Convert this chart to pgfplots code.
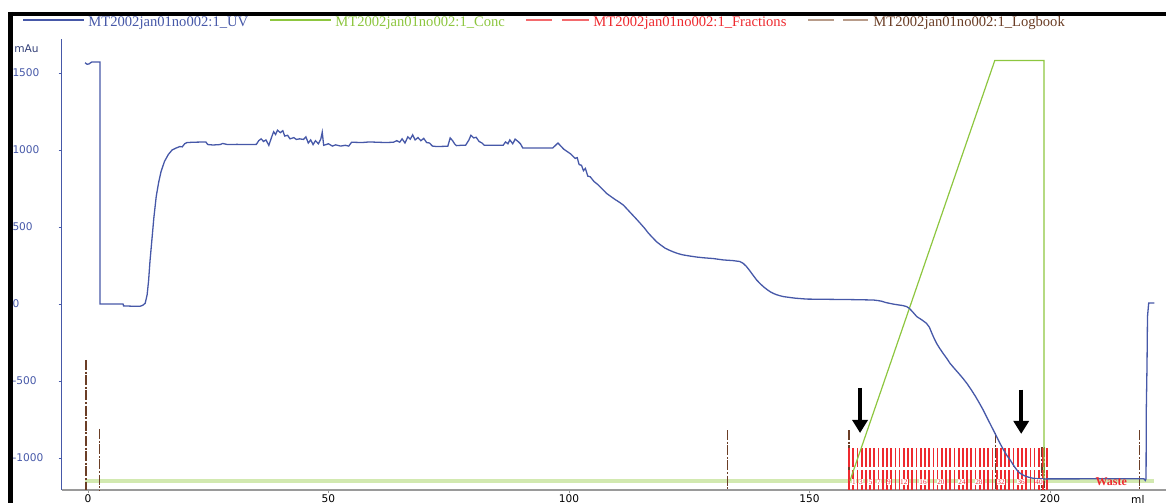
\documentclass[border=0pt]{standalone}
\usepackage{fontspec}
\setmainfont{Liberation Serif}
\newfontfamily\ticksf{DejaVu Sans}
\usepackage{pgfplots}
\usepackage{pgfplotstable}
\pgfplotsset{compat=1.18}
\usetikzlibrary{arrows.meta}

\definecolor{uvblue}{HTML}{4658A8}
\definecolor{concgreen}{HTML}{8DC63F}
\definecolor{basegreen}{HTML}{D2E9B0}
\definecolor{fracred}{HTML}{EE2A2F}
\definecolor{logbrown}{HTML}{6B3E26}
\definecolor{logtan}{HTML}{B89C8A}
\definecolor{axgray}{HTML}{9A9A9A}

% fraction boundaries (ml); yu/yl = top of upper and lower tick rows
\pgfplotstableread{
x yu yl
158.20 -935 -1077
159.08 -935 -1077
159.95 -935 -1077
160.83 -935 -1077
161.71 -935 -1077
162.59 -935 -1077
163.46 -935 -1077
164.34 -935 -1077
165.22 -935 -1077
166.09 -935 -1077
166.97 -935 -1077
167.85 -935 -1077
168.72 -935 -1077
169.60 -935 -1077
170.48 -935 -1077
171.36 -935 -1077
172.23 -935 -1077
173.11 -935 -1077
173.99 -935 -1077
174.86 -935 -1077
175.74 -935 -1077
176.62 -935 -1077
177.49 -935 -1077
178.37 -935 -1077
179.25 -935 -1077
180.13 -935 -1077
181.00 -935 -1077
181.88 -935 -1077
182.76 -935 -1077
183.63 -935 -1077
184.51 -935 -1077
185.39 -935 -1077
186.26 -935 -1077
187.14 -935 -1077
188.02 -935 -1077
188.90 -935 -1077
189.77 -935 -1077
190.65 -935 -1077
191.53 -935 -1077
192.40 -935 -1077
193.28 -935 -1077
194.16 -935 -1077
195.03 -935 -1077
195.91 -935 -1077
196.79 -935 -1077
197.67 -935 -1077
198.54 -935 -1077
199.42 -935 -1077
}\fractab

\pgfplotstableread{
x y lab
159.2 -1155 1
160.7 -1155 3
162.7 -1155 5
164.4 -1155 7
166.5 -1155 9
169.6 -1155 12
173.6 -1155 16
177.3 -1155 20
181.7 -1155 24
185.2 -1155 28
189.8 -1155 32
194.0 -1155 36
197.7 -1155 40
}\fraclabels

\begin{document}
\begin{tikzpicture}
\useasboundingbox (0,0) rectangle (583pt,251.5pt);
\clip (0,0) rectangle (583pt,251.5pt);

% window frame
\draw[line width=2.2pt] (4pt,244.5pt) -- (583pt,244.5pt);
\draw[line width=2.5pt] (5.45pt,245.6pt) -- (5.45pt,0pt);

% legend
\tikzset{legtext/.style={anchor=base west, inner sep=0pt, font=\fontsize{7.3}{8}\selectfont}}
\draw[uvblue, line width=0.6pt] (11.5pt,241.5pt) -- (42pt,241.5pt);
\node[legtext, text=uvblue] at (44pt,238pt) {MT2002jan01no002:1\_UV};
\draw[concgreen, line width=0.6pt] (135pt,241.5pt) -- (165.5pt,241.5pt);
\node[legtext, text=concgreen] at (167.5pt,238pt) {MT2002jan01no002:1\_Conc};
\draw[fracred!70, line width=0.8pt] (263pt,241.5pt) -- (276pt,241.5pt);
\draw[fracred!70, line width=0.8pt] (281pt,241.5pt) -- (294.5pt,241.5pt);
\node[legtext, text=fracred] at (296.5pt,238pt) {MT2002jan01no002:1\_Fractions};
\draw[logtan, line width=0.8pt] (404pt,241.5pt) -- (417pt,241.5pt);
\draw[logtan, line width=0.8pt] (421.5pt,241.5pt) -- (434pt,241.5pt);
\node[legtext, text=logbrown] at (436.5pt,238pt) {MT2002jan01no002:1\_Logbook};

\node[anchor=base west, inner sep=0pt, text=uvblue!70!black, font=\ticksf\fontsize{5.3}{6}\selectfont] at (7pt,225pt) {mAu};

\begin{axis}[
    at={(30.75pt,6.5pt)}, anchor=south west,
    scale only axis, width=552.25pt, height=225.5pt,
    xmin=-5.5, xmax=224.1, ymin=-1207, ymax=1720,
    axis x line*=bottom, axis y line*=left,
    x axis line style={-, draw=axgray, line width=0.7pt},
    y axis line style={-, draw=uvblue, line width=0.5pt},
    xtick={0,50,100,150,200},
    ytick={-1000,-500,0,500,1000,1500},
    tick align=outside, major tick length=1.5pt,
    xtick style={draw=axgray}, ytick style={draw=uvblue},
    /pgf/number format/assume math mode=true,
    /pgf/number format/1000 sep={},
    tick label style={font=\ticksf\fontsize{5.3}{6}\selectfont},
    yticklabel style={text=uvblue, anchor=west, inner sep=0pt, xshift=-23.2pt},
    xticklabel style={anchor=north, inner sep=0pt, yshift=-0.6pt},
    clip=true,
]

% Conc baseline band
\addplot[basegreen, line width=2pt] coordinates {(-0.6,-1147) (221.7,-1147)};

% Logbook marks
\addplot[logbrown, line width=0.6pt, dash pattern=on 5pt off 0.8pt on 1pt off 0.8pt, unbounded coords=jump] coordinates {
(-0.4,-363) (-0.4,-1207) (-0.4,nan)
(2.4,-811) (2.4,-1207) (2.4,nan)
(133.0,-818) (133.0,-1207) (133.0,nan)
(158.2,-818) (158.2,-1207) (158.2,nan)
(188.6,-837) (188.6,-1207) (188.6,nan)
(198.3,-930) (198.3,-1207) (198.3,nan)
(198.9,-930) (198.9,-1207) (198.9,nan)
(218.6,-818) (218.6,-1207)
};

% Fractions
\addplot[fracred, line width=0.85pt, quiver={u=0,v=-123}] table[x=x, y=yu] {\fractab};
\addplot[fracred, line width=0.85pt, quiver={u=0,v=-130}] table[x=x, y=yl] {\fractab};
\addplot[only marks, mark=*, mark size=0pt, mark options={draw=none, fill=none},
    nodes near coords, point meta=explicit symbolic,
    every node near coord/.append style={anchor=center, inner sep=0.2pt, fill=white, text=fracred,
      font=\fontsize{3.6}{4}\selectfont}]
    table[x=x, y=y, meta=lab] {\fraclabels};

% Conc gradient
\addplot[concgreen, line width=0.6pt] coordinates {
(158.4,-1147) (188.5,1580) (198.75,1580) (198.75,-1147)
};

% UV
\addplot[uvblue, line width=0.65pt] coordinates {
(-0.6,1566) (-0.2,1556) (0.2,1558) (0.8,1571) (2.5,1571) (2.5,0) (7.3,0) (7.4,-12)
(9.0,-14) (10.9,-14) (11.4,-8) (11.9,5) (12.3,60) (12.6,150) (12.9,280) (13.3,420)
(13.7,560) (14.2,700) (14.7,790) (15.2,860) (15.9,925) (16.7,970) (17.5,1000)
(18.3,1012) (19.1,1022) (19.6,1020) (20.1,1040) (20.6,1048) (22,1050) (24.5,1052)
(24.9,1035) (26,1032) (27.5,1035) (28,1042) (29,1035) (31,1036) (33,1035) (35.0,1036)
(35.5,1060) (36.0,1072) (36.5,1055) (37.0,1065) (37.6,1030) (38.2,1085) (38.6,1118)
(39.0,1100) (39.4,1128) (40.0,1112) (40.5,1125) (40.9,1090) (41.5,1095) (42.0,1072)
(42.8,1080) (43.3,1068) (44.0,1072) (44.8,1068) (45.3,1085) (45.8,1045) (46.3,1065)
(46.8,1035) (47.3,1060) (47.9,1040) (48.4,1070) (48.7,1115) (49.0,1030) (50.0,1040)
(50.8,1025) (51.5,1033) (52.5,1025) (53.5,1030) (54.2,1025) (54.8,1050) (57,1048)
(58.5,1052) (60,1050) (62,1048) (63.5,1050) (64.2,1060) (64.8,1050) (65.3,1072)
(65.9,1045) (66.5,1085) (67.0,1070) (67.5,1098) (68.0,1065) (68.6,1080) (69.2,1060)
(69.8,1075) (70.4,1048) (71.0,1045) (71.6,1025) (72.5,1022) (74.8,1024) (75.3,1078)
(75.8,1060) (76.2,1040) (76.6,1028) (77.5,1030) (78.5,1030) (79.2,1065) (79.6,1095)
(80.2,1078) (80.7,1082) (81.3,1055) (81.9,1045) (82.4,1030) (83.5,1030) (86.3,1030)
(86.8,1052) (87.3,1040) (87.7,1065) (88.3,1040) (88.8,1070) (89.4,1055) (89.9,1040)
(90.4,1012) (93,1012) (96.6,1012) (97.2,1030) (97.7,1045) (98.3,1025) (98.9,1005)
(99.6,990) (100.3,975) (100.8,960) (101.3,945) (101.7,950) (102.1,905) (102.6,900)
(103.0,865) (103.4,880) (103.9,830) (104.4,826) (105.2,795) (106.0,775) (106.8,750)
(107.8,718) (108.6,700) (109.5,680) (110.4,662) (111.3,642) (112.2,612) (113.0,585)
(113.9,555) (114.8,524) (115.7,492) (116.5,460) (117.4,430) (118.2,404) (119.1,382)
(120,362) (120.8,350) (121.7,338) (122.6,328) (123.5,320) (124.4,315) (125.2,311)
(126.5,305) (128,300) (130,295) (132.1,286) (134,282) (135.5,276) (136.2,264)
(136.9,243) (137.6,215) (138.3,185) (139.0,156) (139.8,130) (140.5,110) (141.2,93)
(141.8,80) (142.4,70) (143,62) (143.8,54) (144.6,48) (146,42) (147,38) (149.4,32)
(152,31) (155,30) (158,29) (160,28) (163.3,26) (164.3,22) (165,18) (165.8,10)
(166.7,4) (167.5,-1) (168.5,-6) (169.4,-10) (170.2,-17) (170.8,-30) (171.4,-50)
(172.3,-82) (173.3,-102) (174.3,-125) (174.9,-150) (175.5,-195) (176.0,-230)
(176.4,-255) (177.1,-290) (177.8,-322) (178.5,-352) (179.2,-385) (180.1,-418)
(181,-450) (181.9,-483) (182.7,-515) (183.6,-556) (184.5,-600) (185.3,-643)
(186.1,-688) (186.8,-732) (187.5,-775) (188.2,-818) (188.9,-861) (189.6,-905)
(190.3,-945) (191.0,-982) (191.7,-1012) (192.3,-1042) (192.8,-1065) (193.3,-1085)
(193.8,-1099) (194.5,-1112) (195.2,-1121) (195.9,-1127) (196.5,-1131) (197.5,-1134)
(198.5,-1135) (219.5,-1134) (219.8,-1145) (219.95,-1134) (220.0,-690) (220.15,-400)
(220.25,-82) (220.5,6) (221.7,6)
};

% annotations
\node[text=fracred, inner sep=0pt, font=\bfseries\fontsize{6}{6}\selectfont] at (axis cs:212.7,-1150) {Waste};
\draw[-{Triangle[width=7.5pt,length=6.5pt]}, line width=2.2pt] (axis cs:160.5,-545) -- (axis cs:160.5,-837);
\draw[-{Triangle[width=7.5pt,length=6.5pt]}, line width=2.2pt] (axis cs:194.0,-555) -- (axis cs:194.0,-843);
\end{axis}
\node[anchor=north, inner sep=0pt, font=\ticksf\fontsize{5.3}{6}\selectfont] at (30.75pt+224pt*2.4025,4.2pt) {ml};
\end{tikzpicture}
\end{document}
